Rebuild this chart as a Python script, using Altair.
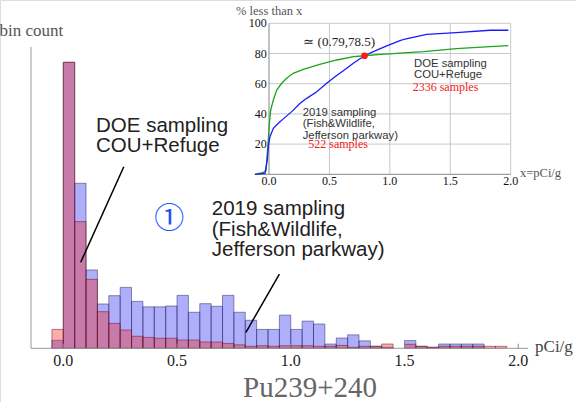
import altair as alt
import pandas as pd

# ---------------- data ----------------
bin_starts = [-0.05, 0.0, 0.05, 0.10, 0.15, 0.20, 0.25, 0.30, 0.35, 0.40,
              0.45, 0.50, 0.55, 0.60, 0.65, 0.70, 0.75, 0.80, 0.85, 0.90,
              0.95, 1.00, 1.05, 1.10, 1.15, 1.20, 1.25, 1.30, 1.35, 1.40,
              1.45, 1.50, 1.55, 1.60, 1.65, 1.70, 1.75, 1.80, 1.85, 1.90]
bin_width = 0.05
# 2019 sampling (blue)
blue_counts = [2.8, 100, 57.7, 27.4, 15.5, 18.4, 21.3, 16.4, 14.5, 14.5,
               14.8, 18.5, 12.6, 15.6, 14.7, 18.5, 12.6, 9.8, 6.6, 6.6,
               11.6, 6.6, 9.5, 8.5, 1.5, 3.6, 4.7, 2.6, 0.7, 0.35,
               0, 2.7, 0.7, 0.35, 1.5, 1.5, 1.5, 1.5, 0, 0]
# DOE sampling (red)
red_counts = [6.6, 100, 44.3, 24.1, 12.8, 8.7, 6.4, 4.2, 3.8, 3.5,
              3.5, 2.9, 2.9, 2.2, 2.2, 1.7, 1.2, 0.7, 0.9, 0.7,
              0.9, 0.9, 0.9, 0.7, 0.7, 1.0, 0.35, 0.7, 0.7, 1.5,
              0, 1.4, 0.7, 0.35, 0.7, 0.7, 0.7, 0.7, 0.7, 0.7]

main_ticks = [0.0, 0.5, 1.0, 1.5, 2.0]
main_tick_labels = ["0.0", "0.5", "1.0", "1.5", "2.0"]

# inset cumulative curves (% less than x)
green_x = [-0.116, -0.047, -0.025, -0.006, 0.003, 0.014, 0.036, 0.064, 0.105, 0.146,
           0.20, 0.284, 0.42, 0.56, 0.70, 0.79, 0.92, 1.0, 1.08, 1.28, 1.55, 1.83, 1.98]
green_y = [0, 1.3, 2.4, 22.7, 33.8, 42.6, 49.2, 55.8, 60.3, 63.6,
           66.9, 69.5, 72.8, 75.7, 77.9, 78.5, 79.4, 79.8, 80.2, 81.2, 83.2, 84.5, 85.2]
blue_x = [-0.116, -0.033, -0.014, -0.006, 0.008, 0.036, 0.077, 0.132, 0.188, 0.257,
          0.312, 0.395, 0.477, 0.546, 0.615, 0.698, 0.79, 0.863, 0.974, 1.084,
          1.125, 1.305, 1.55, 1.83, 1.98]
blue_y = [0, 0.6, 9.5, 18.3, 24.9, 30.5, 33.8, 37.7, 41.5, 47,
          50.3, 54.7, 60.3, 64.6, 68.6, 73.5, 78.5, 81.2, 85, 88.5,
          89.6, 92.7, 93.8, 95.4, 95.4]
cross_x, cross_y = [0.79], [78.5]
inset_xticks = [0.0, 0.5, 1.0, 1.5, 2.0]
inset_xtick_labels = ["0.0", "0.5", "1.0", "1.5", "2.0"]
inset_yticks = [20, 40, 60, 80, 100]
inset_ytick_labels = ["20", "40", "60", "80", "100"]

SERIF = "Liberation Serif"
SANS = "Liberation Sans"

# ---------------- scales ----------------
MX0, MX1, MY1 = -0.142, 2.043, 105.35
IX0, IX1 = -0.12, 2.0
main_x = alt.Scale(domain=[MX0, MX1], range=[31, 528], nice=False, zero=False)
main_y = alt.Scale(domain=[0, MY1], range=[348.3, 47], nice=False, zero=False)
ins_x = alt.Scale(domain=[IX0, IX1], range=[254.5, 510.7], nice=False, zero=False)
ins_y = alt.Scale(domain=[0, 100], range=[174.3, 23.3], nice=False, zero=False)


def seg_layer(df, xs, ys, **kw):
    return alt.Chart(pd.DataFrame(df)).mark_rule(**kw).encode(
        x=alt.X("x:Q", scale=xs, axis=None),
        x2="x2:Q",
        y=alt.Y("y:Q", scale=ys, axis=None),
        y2="y2:Q",
    )


def text_layer(df, xs, ys, **kw):
    return alt.Chart(pd.DataFrame(df)).mark_text(**kw).encode(
        x=alt.X("x:Q", scale=xs, axis=None),
        y=alt.Y("y:Q", scale=ys, axis=None),
        text="t:N",
    )


# ---------------- main histogram ----------------
hist = pd.DataFrame({
    "start": bin_starts,
    "end": [round(s + bin_width, 3) for s in bin_starts],
    "blue": blue_counts,
    "red": red_counts,
})

blue_bars = alt.Chart(hist[hist["blue"] > 0]).mark_rect(
    fill="#2929f1", fillOpacity=0.375, stroke="#2a2a66", strokeOpacity=0.5, strokeWidth=1
).encode(
    x=alt.X("start:Q", scale=main_x, axis=None),
    x2="end:Q",
    y=alt.Y("blue:Q", scale=main_y, axis=None),
    y2=alt.datum(0),
)

red_bars = alt.Chart(hist[hist["red"] > 0]).mark_rect(
    fill="#f12929", fillOpacity=0.375, stroke="#6a1020", strokeOpacity=0.5, strokeWidth=1
).encode(
    x=alt.X("start:Q", scale=main_x, axis=None),
    x2="end:Q",
    y=alt.Y("red:Q", scale=main_y, axis=None),
    y2=alt.datum(0),
)

# axes lines (main)
main_axes = seg_layer({"x": [MX0, MX0], "x2": [MX1, MX0], "y": [0, 0], "y2": [0, MY1]},
                      main_x, main_y, color="#999", strokeWidth=1)
main_tick_marks = seg_layer({"x": main_ticks, "x2": main_ticks, "y": [0] * 5, "y2": [1.6] * 5},
                            main_x, main_y, color="#888", strokeWidth=1)
main_labels = text_layer({"x": main_ticks, "y": [-6.1] * 5, "t": main_tick_labels},
                         main_x, main_y, align="center", baseline="alphabetic",
                         font=SERIF, fontSize=16, color="#222")

leader_lines = seg_layer({"x": [0.266, 0.95], "y": [63.5, 25.9],
                          "x2": [0.0765, 0.803], "y2": [30.07, 5.6]},
                         main_x, main_y, color="black", strokeWidth=1.5)

ann_main = text_layer({"x": [0.1438, 0.6526], "y": [75.7, 46.6],
                       "t": ["DOE sampling\nCOU+Refuge",
                             "2019 sampling\n(Fish&Wildlife,\nJefferson parkway)"]},
                      main_x, main_y, align="left", baseline="alphabetic", font=SANS,
                      fontSize=20.5, lineHeight=20.5, lineBreak="\n", color="#222")
circ = text_layer({"x": [0.466], "y": [45.1], "t": ["①"]}, main_x, main_y,
                  align="center", baseline="middle", font="Noto Sans CJK JP",
                  fontSize=30, color="#2050ff")
bin_count = text_layer({"x": [0.0], "y": [109.2], "t": ["bin count"]}, main_x, main_y,
                       align="right", baseline="alphabetic", font=SERIF, fontSize=17,
                       color="#555")
unit_lbl = text_layer({"x": [2.074], "y": [-1.3], "t": ["pCi/g"]}, main_x, main_y,
                      align="left", baseline="alphabetic", font=SERIF, fontSize=17,
                      color="#444")
big_title = text_layer({"x": [1.085], "y": [-16.9], "t": ["Pu239+240"]}, main_x, main_y,
                       align="center", baseline="alphabetic", font=SERIF, fontSize=29,
                       color="#666")

main = alt.layer(blue_bars, red_bars, main_axes, main_tick_marks, main_labels,
                 leader_lines, ann_main, circ, bin_count, unit_lbl, big_title)

# ---------------- inset ----------------
vgrid = seg_layer({"x": [0.5, 1.0, 1.5, 2.0], "x2": [0.5, 1.0, 1.5, 2.0],
                   "y": [0] * 4, "y2": [100] * 4},
                  ins_x, ins_y, color="#c8c8c8", strokeWidth=1)
hgrid = seg_layer({"x": [0] * 5, "x2": [2.0] * 5, "y": inset_yticks, "y2": inset_yticks},
                  ins_x, ins_y, color="#c8c8c8", strokeWidth=1)
ins_axes = seg_layer({"x": [IX0, 0], "x2": [IX1, 0], "y": [0, 0], "y2": [0, 100]},
                     ins_x, ins_y, color="#888", strokeWidth=1)
ins_xlabels = text_layer({"x": inset_xticks, "y": [-7.0] * 5, "t": inset_xtick_labels},
                         ins_x, ins_y, align="center", baseline="alphabetic",
                         font=SERIF, fontSize=12, color="#111")
ins_ylabels = text_layer({"x": [-0.019] * 5, "y": inset_yticks, "t": inset_ytick_labels},
                         ins_x, ins_y, align="right", baseline="middle",
                         font=SERIF, fontSize=12, color="#111")

curves = pd.concat([
    pd.DataFrame({"x": green_x, "p": green_y, "s": "DOE"}),
    pd.DataFrame({"x": blue_x, "p": blue_y, "s": "2019"}),
])
curve_lines = alt.Chart(curves).mark_line(strokeWidth=1.3).encode(
    x=alt.X("x:Q", scale=ins_x, axis=None),
    y=alt.Y("p:Q", scale=ins_y, axis=None),
    color=alt.Color("s:N", scale=alt.Scale(domain=["DOE", "2019"], range=["#1aa51a", "#1a1aff"]),
                    legend=None),
    detail="s:N",
)
cross_dot = alt.Chart(pd.DataFrame({"x": cross_x, "p": cross_y})).mark_circle(
    size=45, color="#ff1a1a", opacity=1
).encode(
    x=alt.X("x:Q", scale=ins_x, axis=None),
    y=alt.Y("p:Q", scale=ins_y, axis=None),
)

ins_sans = text_layer({"x": [1.2, 0.279], "y": [71.3, 38.6],
                       "t": ["DOE sampling\nCOU+Refuge",
                             "2019 sampling\n(Fish&Wildlife,\nJefferson parkway)"]},
                      ins_x, ins_y, align="left", baseline="alphabetic", font=SANS,
                      fontSize=11.3, lineHeight=11.4, lineBreak="\n", color="#333")
ins_red = text_layer({"x": [1.189, 0.325], "y": [55.4, 17.2],
                      "t": ["2336 samples", "522 samples"]},
                     ins_x, ins_y, align="left", baseline="alphabetic", font=SERIF,
                     fontSize=12, color="#f02020")
ins_cross = text_layer({"x": [0.284], "y": [85], "t": ["≃ (0.79,78.5)"]},
                       ins_x, ins_y, align="left", baseline="alphabetic", font=SERIF,
                       fontSize=13, color="#222")
ins_titles = text_layer({"x": [-0.273, 2.077], "y": [105.2, -1.6],
                         "t": ["% less than x", "x=pCi/g"]},
                        ins_x, ins_y, align="left", baseline="alphabetic", font=SERIF,
                        fontSize=12.5, color="#555")

inset = alt.layer(vgrid, hgrid, ins_axes, ins_xlabels, ins_ylabels, curve_lines,
                  cross_dot, ins_sans, ins_red, ins_cross, ins_titles)

chart = alt.layer(main, inset).resolve_scale(
    x="independent", y="independent"
).properties(
    width=576, height=402,
    autosize=alt.AutoSizeParams(type="none"),
    padding=0,
).configure_view(stroke=None).configure(background="white")

chart.save("out.html", embed_options={"renderer": "svg", "actions": False})
